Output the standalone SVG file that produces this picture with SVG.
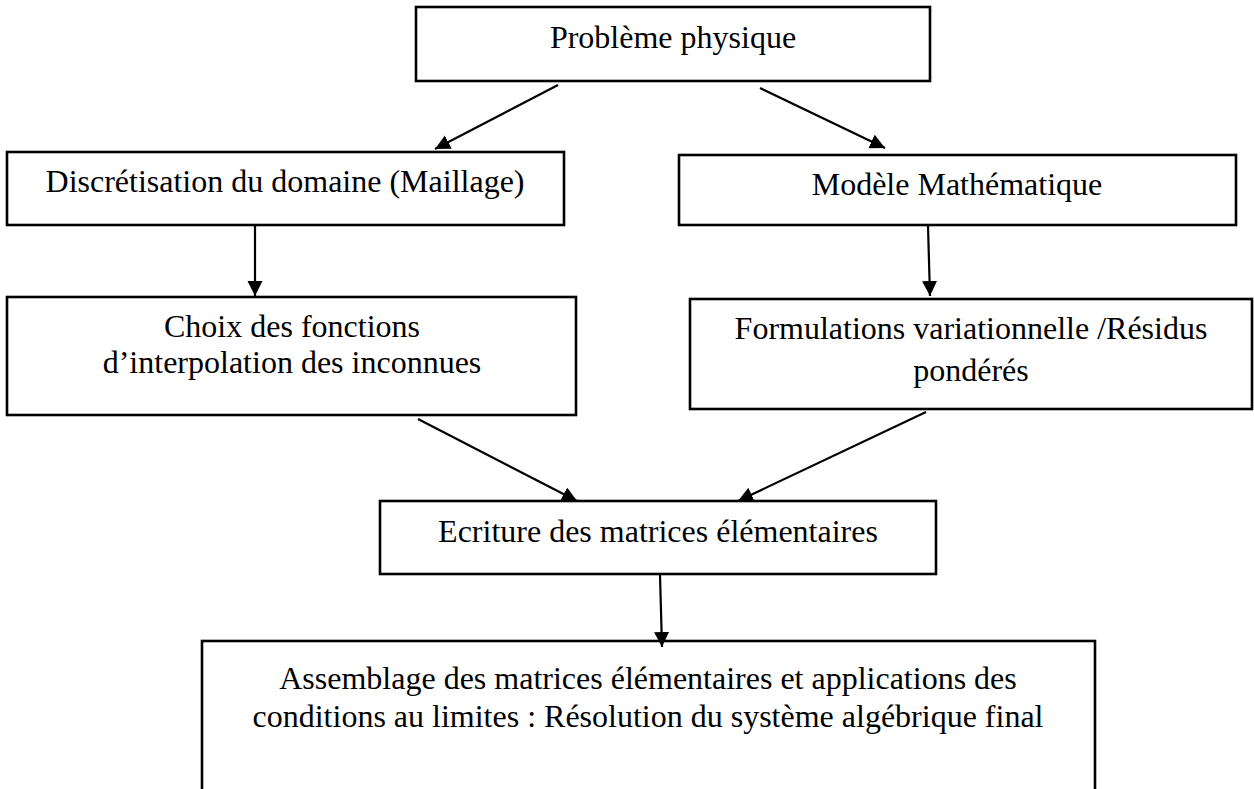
<svg xmlns="http://www.w3.org/2000/svg" width="1254" height="789" viewBox="0 0 1254 789">
<style>
.box{fill:#fff;stroke:#000;stroke-width:2.6}
.t{font-family:"Liberation Serif","Times New Roman",serif;font-size:32px;fill:#000;text-anchor:middle}
.c{stroke:#000;stroke-width:2.2;fill:none;marker-end:url(#ah)}
</style>
<defs>
<marker id="ah" markerUnits="userSpaceOnUse" markerWidth="17" markerHeight="16" refX="15" refY="7.5" orient="auto">
<path d="M0,0 L15,7.5 L0,15 z" fill="#000"/>
</marker>
</defs>
<rect width="1254" height="789" fill="#fff"/>
<g id="n-probleme"><rect class="box" x="416" y="7" width="514" height="74"/><text class="t" x="673" y="48">Problème physique</text></g>
<g id="n-discretisation"><rect class="box" x="7" y="152" width="557" height="73"/><text class="t" x="285" y="192">Discrétisation du domaine (Maillage)</text></g>
<g id="n-modele"><rect class="box" x="679" y="155" width="557" height="70"/><text class="t" x="957" y="195">Modèle Mathématique</text></g>
<g id="n-choix"><rect class="box" x="7" y="297" width="569" height="118"/><text class="t" x="292" y="337">Choix des fonctions</text><text class="t" x="292" y="373">d’interpolation des inconnues</text></g>
<g id="n-formulations"><rect class="box" x="690" y="299" width="562" height="110"/><text class="t" x="971" y="339">Formulations variationnelle /Résidus</text><text class="t" x="971" y="381">pondérés</text></g>
<g id="n-ecriture"><rect class="box" x="380" y="501" width="556" height="73"/><text class="t" x="658" y="542">Ecriture des matrices élémentaires</text></g>
<g id="n-assemblage"><rect class="box" x="202" y="641" width="893" height="170"/><text class="t" x="648" y="689">Assemblage des matrices élémentaires et applications des</text><text class="t" x="648" y="727">conditions au limites : Résolution du système algébrique final</text></g>
<g id="connectors">
<line class="c" x1="558" y1="85" x2="435" y2="149"/>
<line class="c" x1="760" y1="88" x2="885" y2="148"/>
<line class="c" x1="255" y1="226" x2="255" y2="296"/>
<line class="c" x1="928" y1="226" x2="930" y2="296"/>
<line class="c" x1="418" y1="419" x2="577" y2="501"/>
<line class="c" x1="926" y1="412" x2="738" y2="501"/>
<line class="c" x1="660" y1="575" x2="662" y2="647"/>
</g>
</svg>
